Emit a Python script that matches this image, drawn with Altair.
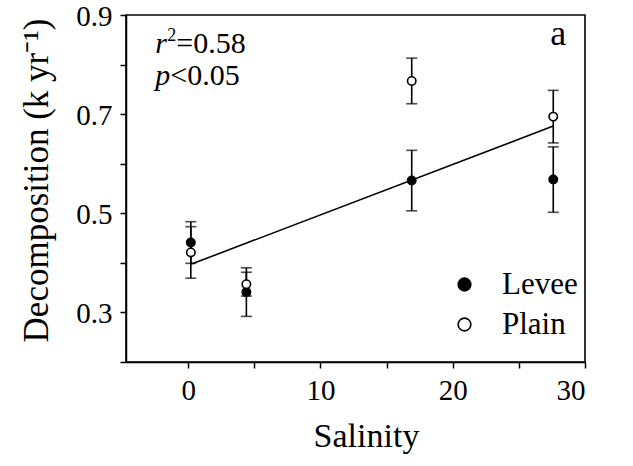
import altair as alt
import pandas as pd

# ---- data ----
salinity = [0.2, 4.4, 16.9, 27.6]
levee_mean = [0.441, 0.341, 0.566, 0.568]
levee_se = [0.042, 0.049, 0.061, 0.066]
plain_mean = [0.421, 0.357, 0.767, 0.695]
plain_se = [0.052, 0.024, 0.046, 0.053]

fit_x = [0.2, 27.6]
fit_y = [0.397, 0.676]

x_ticks = [0, 5, 10, 15, 20, 25, 30]
y_ticks = [0.2, 0.3, 0.4, 0.5, 0.6, 0.7, 0.8, 0.9]

FONT = "Liberation Serif"

rows = []
for s, m, e in zip(salinity, levee_mean, levee_se):
    rows.append({"series": "Levee", "salinity": s, "mean": m, "lo": m - e, "hi": m + e})
for s, m, e in zip(salinity, plain_mean, plain_se):
    rows.append({"series": "Plain", "salinity": s, "mean": m, "lo": m - e, "hi": m + e})
df = pd.DataFrame(rows)
fit_df = pd.DataFrame({"salinity": fit_x, "fit": fit_y})

xscale = alt.Scale(domain=[-4.7, 30], nice=False, zero=False)
yscale = alt.Scale(domain=[0.2, 0.9], nice=False, zero=False)

xaxis = alt.Axis(
    values=x_ticks, labelExpr="datum.value % 10 == 0 ? datum.label : ''",
    title="Salinity", grid=False, tickSize=6, tickWidth=1.5, tickColor="black",
    domainColor="black", domainWidth=1.5, labelFont=FONT, labelFontSize=29,
    labelColor="black", labelPadding=8, titleFont=FONT, titleFontSize=34,
    titleFontWeight="normal", titleColor="black", titlePadding=14, titleX=240,
)
yaxis = alt.Axis(
    values=y_ticks,
    labelExpr="(round(datum.value*10) % 2 == 1) ? format(datum.value, '.1f') : ''",
    title="Decomposition  (k yr⁻¹)", grid=False, tickSize=6, tickWidth=1.5,
    tickColor="black", domainColor="black", domainWidth=1.5, labelFont=FONT,
    labelFontSize=29, labelColor="black", labelPadding=8, labelOffset=1,
    titleFont=FONT, titleFontSize=35, titleFontWeight="normal", titleColor="black",
    titlePadding=21, titleY=165,
)

base = alt.Chart(df)

bars = base.mark_rule(color="black", strokeWidth=1.6).encode(
    x=alt.X("salinity:Q", scale=xscale, axis=xaxis),
    y=alt.Y("lo:Q", scale=yscale, axis=yaxis),
    y2="hi:Q",
)
cap_lo = base.mark_tick(color="black", thickness=1.6, size=11, orient="horizontal").encode(
    x=alt.X("salinity:Q", scale=xscale), y=alt.Y("lo:Q", scale=yscale)
)
cap_hi = base.mark_tick(color="black", thickness=1.6, size=11, orient="horizontal").encode(
    x=alt.X("salinity:Q", scale=xscale), y=alt.Y("hi:Q", scale=yscale)
)

points = base.mark_point(filled=True, stroke="black", strokeWidth=1.6, size=70, opacity=1).encode(
    x=alt.X("salinity:Q", scale=xscale),
    y=alt.Y("mean:Q", scale=yscale),
    fill=alt.Fill(
        "series:N",
        scale=alt.Scale(domain=["Levee", "Plain"], range=["black", "white"]),
        legend=alt.Legend(
            orient="none", legendX=323, legendY=254, title=None,
            labelFont=FONT, labelFontSize=31, labelColor="black",
            symbolType="circle", symbolSize=160, symbolStrokeColor="black",
            symbolStrokeWidth=1.6, labelOffset=22, rowPadding=8,
        ),
    ),
)

line = alt.Chart(fit_df).mark_line(color="black", strokeWidth=1.6).encode(
    x=alt.X("salinity:Q", scale=xscale), y=alt.Y("fit:Q", scale=yscale)
)

# annotations
ann_df = pd.DataFrame({"x": [-2.49], "y1": [0.8235], "y2": [0.759], "xa": [27.97], "ya": [0.84]})
ann = alt.Chart(ann_df)
r_txt = ann.mark_text(text="r", font=FONT, fontStyle="italic", fontSize=30, align="left",
                      baseline="alphabetic", color="black").encode(
    x=alt.X("x:Q", scale=xscale), y=alt.Y("y1:Q", scale=yscale))
sup_txt = ann.mark_text(text="2", font=FONT, fontSize=18, align="left", baseline="alphabetic",
                        dx=12, dy=-12, color="black").encode(
    x=alt.X("x:Q", scale=xscale), y=alt.Y("y1:Q", scale=yscale))
r_val = ann.mark_text(text="=0.58", font=FONT, fontSize=30, align="left", baseline="alphabetic",
                      dx=21, color="black").encode(
    x=alt.X("x:Q", scale=xscale), y=alt.Y("y1:Q", scale=yscale))
p_txt = ann.mark_text(text="p", font=FONT, fontStyle="italic", fontSize=30, align="left",
                      baseline="alphabetic", color="black").encode(
    x=alt.X("x:Q", scale=xscale), y=alt.Y("y2:Q", scale=yscale))
p_val = ann.mark_text(text="<0.05", font=FONT, fontSize=30, align="left", baseline="alphabetic",
                      dx=15, color="black").encode(
    x=alt.X("x:Q", scale=xscale), y=alt.Y("y2:Q", scale=yscale))
a_txt = ann.mark_text(text="a", font=FONT, fontSize=36, align="center", baseline="alphabetic",
                      color="black").encode(
    x=alt.X("xa:Q", scale=xscale), y=alt.Y("ya:Q", scale=yscale))

chart = alt.layer(bars, cap_lo, cap_hi, line, points, r_txt, sup_txt, r_val, p_txt, p_val, a_txt).properties(
    width=459, height=347,
    autosize=alt.AutoSizeParams(type="none"),
    padding={"left": 126, "top": 15, "right": 48, "bottom": 104},
    background="white",
).configure(font=FONT).configure_view(stroke="black", strokeWidth=1.6)

chart.save("out.html", embed_options={"renderer": "svg", "actions": False})
